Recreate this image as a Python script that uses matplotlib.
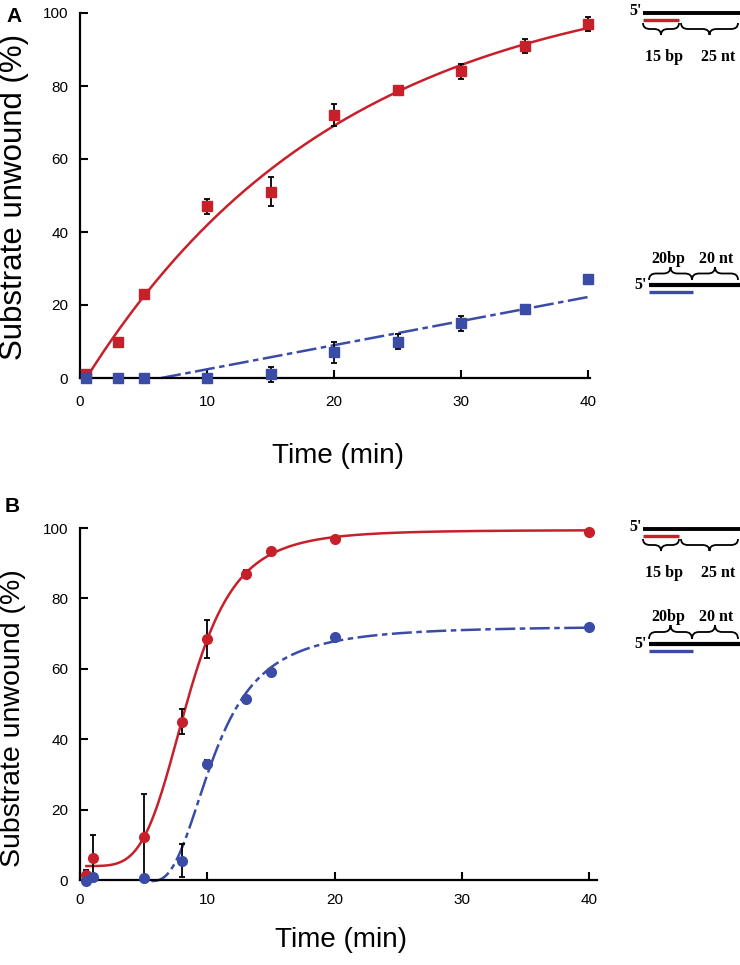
import numpy as np
import matplotlib
matplotlib.use('Agg')
import matplotlib.pyplot as plt
from matplotlib.lines import Line2D
from matplotlib.path import Path
from matplotlib.patches import PathPatch

plt.rcParams['font.family'] = ['Liberation Sans', 'DejaVu Sans']

W, H = 740, 965
RED = '#c8202a'
BLUE = '#3a4ca6'

# panel A
time_a = [0.5, 3, 5, 10, 15, 20, 25, 30, 35, 40]
red_a = [1, 10, 23, 47, 51, 72, 79, 84, 91, 97]
red_a_err = [1, 0, 0, 2, 4, 3, 0.5, 2, 2, 2]
blue_a = [0, 0, 0, 0, 1, 7, 10, 15, 19, 27]
blue_a_err = [0, 0, 0, 0, 2, 3, 2, 2, 0.5, 0.5]

# panel B
time_b = [0.5, 1, 5, 8, 10, 13, 15, 20, 40]
red_b = [1.5, 6.2, 12.3, 45, 68.5, 87, 93.5, 97, 99]
red_b_err = [1.3, 6.5, 12, 3.5, 5.5, 1, 0, 0, 0]
blue_b = [-0.3, 0.8, 0.5, 5.5, 33, 51.5, 59, 69, 72]
blue_b_err = [0, 0, 0, 4.7, 1, 0, 0, 0, 0]


def fit_exp(t, y):
    # y = a * (1 - exp(-k (t - t0))), grid over k, t0
    t, y = np.asarray(t, float), np.asarray(y, float)
    k, t0 = np.meshgrid(np.linspace(0.005, 0.3, 300), np.linspace(0, 1, 21), indexing='ij')
    f = 1 - np.exp(-k[..., None] * (t - t0[..., None]))
    a = (f * y).sum(-1) / (f * f).sum(-1)
    sse = ((a[..., None] * f - y) ** 2).sum(-1)
    i = np.unravel_index(np.argmin(sse), sse.shape)
    return a[i], k[i], t0[i]


def fit_hill(t, y, shifts=(0.0,)):
    # y = b0 + b1 * s^n / (K^n + s^n), s = t - t0
    t, y = np.asarray(t, float), np.asarray(y, float)
    t0, K, n = np.meshgrid(np.asarray(shifts, float), np.linspace(2, 15, 131),
                           np.linspace(1, 8, 71), indexing='ij')
    s = np.clip(t - t0[..., None], 0, None)
    h = s ** n[..., None] / (K[..., None] ** n[..., None] + s ** n[..., None])
    hm = h.mean(-1, keepdims=True)
    var = ((h - hm) ** 2).sum(-1)
    b1 = ((h - hm) * (y - y.mean())).sum(-1) / np.where(var > 0, var, np.inf)
    b0 = y.mean() - b1 * hm[..., 0]
    sse = ((b0[..., None] + b1[..., None] * h - y) ** 2).sum(-1)
    i = np.unravel_index(np.argmin(sse), sse.shape)
    return b0[i], b1[i], K[i], n[i], t0[i]


def hill(tt, b0, b1, K, n, t0):
    s = np.clip(tt - t0, 0, None)
    return b0 + b1 * s ** n / (K ** n + s ** n)


def style(ax, xmax, xpad, ylsize, xlab_y, ylab_y):
    ax.set_xlim(0, xmax)
    ax.set_ylim(0, 100)
    ax.set_xticks([0, 10, 20, 30, 40])
    ax.set_yticks(range(0, 101, 20))
    for s in ('top', 'right'):
        ax.spines[s].set_visible(False)
    for s in ('left', 'bottom'):
        ax.spines[s].set_linewidth(1.6)
    ax.tick_params(direction='in', length=6, width=1.5, labelsize=11)
    ax.tick_params(axis='x', pad=xpad)
    ax.tick_params(axis='y', pad=8.5)
    ax.set_xlabel('Time (min)', fontsize=20)
    ax.set_ylabel('Substrate unwound (%)', fontsize=ylsize)
    ax.xaxis.label.set_va('center')
    ax.yaxis.label.set_va('center')
    ax.xaxis.set_label_coords(0.505, xlab_y)
    ax.yaxis.set_label_coords(-0.129, ylab_y)


fig = plt.figure(figsize=(W / 100, H / 100), dpi=100)
ax_a = fig.add_axes([80 / W, 1 - 378 / H, 510 / W, 365 / H])
ax_b = fig.add_axes([80 / W, 1 - 880 / H, 517 / W, 352 / H])

# ---- panel A ----
a, k, t0 = fit_exp(time_a, red_a)
tt = np.linspace(t0, 40, 400)
ax_a.plot(tt, a * (1 - np.exp(-k * (tt - t0))), color=RED, lw=1.8, zorder=2, clip_on=False)
m, b = np.polyfit(time_a, blue_a, 1)
tt = np.linspace(-b / m, 40, 100)
ax_a.plot(tt, m * tt + b, color=BLUE, lw=1.8, ls=(0, (8, 1.8, 2.2, 1.8)), zorder=2, clip_on=False)
for y, e, c in ((red_a, red_a_err, RED), (blue_a, blue_a_err, BLUE)):
    ax_a.errorbar(time_a, y, yerr=e, fmt='none', ecolor='black', elinewidth=1.3,
                  capsize=2.5, capthick=1.3, zorder=3, clip_on=False)
    ax_a.plot(time_a, y, 's', color=c, ms=6.5, zorder=4, clip_on=False)
style(ax_a, 40.15, 12.5, 22.5, -0.214, 0.496)

# ---- panel B ----
pr = fit_hill(time_b, red_b)
tt = np.linspace(0.5, 40, 400)
ax_b.plot(tt, hill(tt, *pr), color=RED, lw=1.8, zorder=2, clip_on=False)
# lag of the 20 bp substrate: curve leaves zero right after the 5 min point
pb = fit_hill(time_b, blue_b, shifts=np.linspace(5.0, 5.6, 7))
tt = np.linspace(pb[4], 40, 400)
ax_b.plot(tt, hill(tt, *pb), color=BLUE, lw=1.8, ls=(0, (8, 1.8, 2.2, 1.8)), zorder=2, clip_on=False)
for y, e, c in ((red_b, red_b_err, RED), (blue_b, blue_b_err, BLUE)):
    ax_b.errorbar(time_b, y, yerr=e, fmt='none', ecolor='black', elinewidth=1.3,
                  capsize=2.5, capthick=1.3, zorder=3, clip_on=False)
    ax_b.plot(time_b, y, 'o', color=c, ms=7, zorder=4, clip_on=False)
style(ax_b, 40.6, 9, 20.5, -0.170, 0.46)

fig.text(6 / W, 1 - 16 / H, 'A', fontsize=15, fontweight='bold', va='center')
fig.text(5 / W, 1 - 506 / H, 'B', fontsize=15, fontweight='bold', va='center')


# ---- duplex schematics (figure pixel coords, top-left origin) ----
def px(x, y):
    return x / W, 1 - y / H


def hline(x0, x1, y, color, lw):
    fig.add_artist(Line2D([x0 / W, x1 / W], [1 - y / H] * 2, transform=fig.transFigure,
                          color=color, lw=lw, solid_capstyle='butt'))


def brace(x0, x1, y, h):
    xm = (x0 + x1) / 2
    q = min(7, (x1 - x0) / 4)
    pts = [(x0, y), (x0, y + h / 2), (x0 + q, y + h / 2), (xm - q, y + h / 2),
           (xm, y + h / 2), (xm, y + h), (xm, y + h / 2), (xm + q, y + h / 2),
           (x1 - q, y + h / 2), (x1, y + h / 2), (x1, y)]
    codes = [Path.MOVETO, Path.CURVE3, Path.CURVE3, Path.LINETO, Path.CURVE3, Path.CURVE3,
             Path.CURVE3, Path.CURVE3, Path.LINETO, Path.CURVE3, Path.CURVE3]
    fig.add_artist(PathPatch(Path([px(*p) for p in pts], codes), transform=fig.transFigure,
                             fill=False, lw=1.3, edgecolor='black'))


def label(x, y, s):
    fig.text(*px(x, y), s, family=['Liberation Serif', 'DejaVu Serif'], fontweight='bold',
             fontsize=11.5, ha='center', va='center')


def overhang_3(top):
    # 15 bp duplex, 25 nt 3' tail
    label(636, top - 2, "5'")
    hline(643, 740, top, 'black', 2.8)
    hline(643, 679, top + 7, RED, 2.4)
    brace(643, 679, top + 10, 12)
    brace(681, 738, top + 10, 12)
    label(664, top + 44, '15 bp')
    label(718, top + 44, '25 nt')


def overhang_20(line_y, text_y):
    # 20 bp duplex, 20 nt tail
    label(668, text_y, '20bp')
    label(716, text_y, '20 nt')
    brace(649, 692, line_y - 5, -(line_y - 5 - text_y - 8))
    brace(692, 738, line_y - 5, -(line_y - 5 - text_y - 8))
    label(641, line_y, "5'")
    hline(649, 740, line_y, 'black', 3.0)
    hline(649, 693, line_y + 7, BLUE, 2.4)


overhang_3(13)
overhang_20(285, 259)
overhang_3(529)
overhang_20(644, 617)

fig.savefig('out.png', dpi=100)
